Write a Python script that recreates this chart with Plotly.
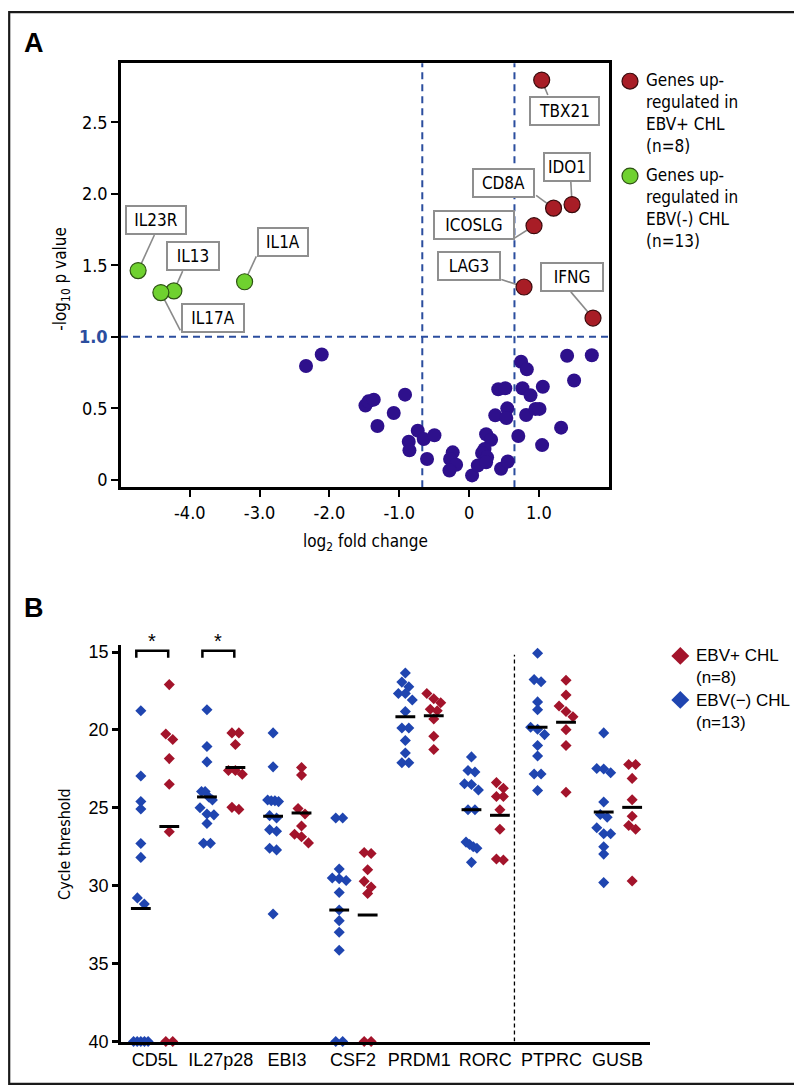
import plotly.graph_objects as go

# ---------------- DATA ----------------
# Panel A: volcano plot (log2 fold change, -log10 p value)
up_pos_genes = ["TBX21", "IDO1", "CD8A", "ICOSLG", "LAG3", "IFNG"]
up_pos_fc = [1.04, 1.475, 1.21, 0.93, 0.787, 1.775]
up_pos_p = [2.796, 1.925, 1.90, 1.777, 1.348, 1.131]

up_neg_genes = ["IL23R", "IL13", "IL17A", "IL1A"]
up_neg_fc = [-4.74, -4.228, -4.414, -3.215]
up_neg_p = [1.463, 1.321, 1.309, 1.385]

other_fc = [-2.335, -2.110, -1.484, -1.441, -1.365, -0.917, -1.079, -1.312, -0.735, -0.864,
            -0.854, -0.649, -0.496, -0.602, -0.234, -0.272, -0.186, -0.281, 0.043, 0.125,
            0.244, 0.315, 0.221, 0.186, 0.258, 0.244, 0.458, 0.554, 0.418, 0.519,
            0.375, 0.547, 0.533, 0.745, 0.827, 0.765, 0.880, 0.705, 1.404, 1.758,
            1.504, 1.056, 0.817, 0.951, 1.009, 1.318, 1.046]
other_p = [0.795, 0.876, 0.519, 0.548, 0.560, 0.595, 0.467, 0.376, 0.343, 0.265,
           0.205, 0.284, 0.311, 0.145, 0.191, 0.145, 0.104, 0.064, 0.030, 0.099,
           0.318, 0.279, 0.214, 0.187, 0.156, 0.122, 0.076, 0.127, 0.633, 0.640,
           0.450, 0.499, 0.431, 0.825, 0.772, 0.640, 0.590, 0.306, 0.867, 0.871,
           0.694, 0.650, 0.452, 0.495, 0.495, 0.364, 0.242]

fc_cutoffs = [-0.67, 0.65]
p_cutoff = 1.0
a_xticks = [-4, -3, -2, -1, 0, 1]
a_xticklabels = ["-4.0", "-3.0", "-2.0", "-1.0", "0", "1.0"]
a_yticks = [0, 0.5, 1.0, 1.5, 2.0, 2.5]
a_yticklabels = ["0", "0.5", "1.0", "1.5", "2.0", "2.5"]

# Panel B: cycle threshold per gene
b_genes = ["CD5L", "IL27p28", "EBI3", "CSF2", "PRDM1", "RORC", "PTPRC", "GUSB"]
ct_ebv_neg = [
    [18.77, 22.96, 24.59, 25.07, 27.29, 28.18, 30.78, 31.18, 40, 40, 40, 40, 40],
    [18.71, 21.06, 22.05, 23.95, 23.95, 24.3, 24.5, 25.0, 25.4, 25.45, 26.0, 27.27, 27.27],
    [20.19, 22.37, 24.5, 24.55, 24.55, 24.6, 25.5, 25.65, 26.4, 26.5, 27.6, 27.7, 31.82],
    [25.65, 25.65, 28.92, 29.5, 29.55, 29.66, 30.44, 31.56, 32.24, 32.98, 34.14, 40, 40],
    [16.34, 16.93, 17.23, 17.66, 17.66, 18.08, 18.82, 19.87, 19.87, 20.68, 21.48, 22.11, 22.11],
    [21.73, 22.6, 22.7, 23.45, 23.5, 23.85, 25.12, 25.12, 27.2, 27.35, 27.5, 27.6, 28.5],
    [15.08, 16.77, 16.91, 18.2, 18.71, 19.83, 19.95, 20.3, 21.0, 21.67, 22.83, 22.83, 23.89],
    [20.19, 22.48, 22.51, 22.75, 24.63, 25.43, 25.6, 26.28, 26.66, 26.66, 27.5, 27.97, 29.8],
]
ct_ebv_pos = [
    [17.09, 20.26, 20.61, 21.84, 23.49, 26.53, 40, 40],
    [20.19, 20.19, 20.93, 22.6, 22.6, 22.85, 24.97, 25.1],
    [22.41, 22.9, 25.05, 25.4, 26.17, 26.7, 26.85, 27.25],
    [27.93, 27.87, 28.98, 29.72, 30.08, 30.5, 40, 40],
    [17.66, 18.0, 18.25, 18.67, 18.77, 19.3, 20.4, 21.25],
    [23.38, 23.74, 24.27, 24.27, 25.12, 26.38, 28.29, 28.35],
    [16.81, 17.76, 18.46, 18.82, 19.15, 19.98, 21.0, 24.0],
    [22.22, 22.22, 23.11, 24.48, 25.54, 26.13, 26.38, 29.69],
]
median_ebv_neg = [31.46, 24.3, 25.54, 31.56, 19.15, 25.12, 19.83, 25.27]
median_ebv_pos = [26.2, 22.41, 25.33, 31.88, 19.09, 25.48, 19.51, 24.97]
b_yticks = [15, 20, 25, 30, 35, 40]
b_divider = 5.44           # dashed separator between RORC and PTPRC
signif_pairs = [0, 1]      # categories with "*"

# ---------------- STYLE / LAYOUT ----------------
W, H = 802, 1087
def px(x):
    return x / W
def py(y):
    return 1 - y / H

RED = "#a81d26"
RED_EDGE = "#3a0b0d"
GREEN = "#6fd12f"
GREEN_EDGE = "#2e5214"
PURPLE = "#2e108c"
DASH_BLUE = "#2b4d9e"
B_BLUE = "#1f45b0"
B_RED = "#a3142b"
ARIAL = "Arial, Liberation Sans, Helvetica, sans-serif"
NARROW = "Liberation Sans Narrow, Arial Narrow, DejaVu Sans Condensed, Liberation Sans, Arial, sans-serif"

fig = go.Figure()

# ---- Panel A traces ----
fig.add_trace(go.Scatter(x=other_fc, y=other_p, mode="markers", xaxis="x", yaxis="y",
                         marker=dict(size=14, color=PURPLE, line=dict(width=0)),
                         showlegend=False, hoverinfo="skip"))
fig.add_trace(go.Scatter(x=up_neg_fc, y=up_neg_p, mode="markers", xaxis="x", yaxis="y",
                         marker=dict(size=16, color=GREEN, line=dict(width=1.2, color=GREEN_EDGE)),
                         showlegend=False, text=up_neg_genes))
fig.add_trace(go.Scatter(x=up_pos_fc, y=up_pos_p, mode="markers", xaxis="x", yaxis="y",
                         marker=dict(size=16, color=RED, line=dict(width=1.2, color=RED_EDGE)),
                         showlegend=False, text=up_pos_genes))

# label boxes: centre (data units), box width (px), connector attach point (data units)
label_style = {
    "TBX21": dict(box=(1.368, 2.583), w=71, attach=(1.128, 2.692)),
    "IDO1": dict(box=(1.407, 2.19), w=48, attach=(1.457, 2.086)),
    "CD8A": dict(box=(0.497, 2.078), w=63, attach=(0.96, 1.989)),
    "ICOSLG": dict(box=(0.075, 1.78), w=82, attach=(0.65, 1.69)),
    "LAG3": dict(box=(0.003, 1.496), w=64, attach=(0.462, 1.401)),
    "IFNG": dict(box=(1.479, 1.415), w=64, attach=(1.457, 1.314)),
    "IL23R": dict(box=(-4.478, 1.816), w=62, attach=(-4.507, 1.712)),
    "IL13": dict(box=(-3.948, 1.563), w=54, attach=(-4.102, 1.459)),
    "IL17A": dict(box=(-3.673, 1.133), w=64, attach=(-4.136, 1.045)),
    "IL1A": dict(box=(-2.671, 1.664), w=52, attach=(-3.047, 1.563)),
}

shapes = []
annotations = []

all_genes = up_pos_genes + up_neg_genes
all_fc = up_pos_fc + up_neg_fc
all_p = up_pos_p + up_neg_p
for g, xv, yv in zip(all_genes, all_fc, all_p):
    st = label_style[g]
    shapes.append(dict(type="line", xref="x", yref="y", x0=xv, y0=yv,
                       x1=st["attach"][0], y1=st["attach"][1],
                       line=dict(color="#8a8a8a", width=1.6), layer="below"))
    annotations.append(dict(xref="x", yref="y", x=st["box"][0], y=st["box"][1],
                            text=g, showarrow=False, bgcolor="white",
                            bordercolor="#8f8f8f", borderwidth=2, borderpad=2,
                            width=st["w"] - 8, height=22, align="center",
                            font=dict(family=NARROW, size=17, color="black"),
                            xanchor="center", yanchor="middle"))

# cutoff lines (panel A)
for c in fc_cutoffs:
    shapes.append(dict(type="line", xref="x", yref="y domain", x0=c, x1=c, y0=0, y1=1,
                       line=dict(color=DASH_BLUE, width=2, dash="7px,5px"), layer="below"))
shapes.append(dict(type="line", xref="x domain", yref="y", x0=0, x1=1, y0=p_cutoff, y1=p_cutoff,
                   line=dict(color=DASH_BLUE, width=2, dash="7px,5px"), layer="below"))

# ---- Panel B traces ----
def swarm(vals, center, step=0.105, tight=0.055, tol=0.42):
    order = sorted(range(len(vals)), key=lambda k: vals[k])
    xs = [center] * len(vals)
    clusters, cur = [], [order[0]]
    for k in order[1:]:
        if vals[k] - vals[cur[-1]] < tol:
            cur.append(k)
        else:
            clusters.append(cur)
            cur = [k]
    clusters.append(cur)
    for c in clusters:
        n = len(c)
        s = step if n <= 3 else tight
        for j, k in enumerate(c):
            xs[k] = center + (j - (n - 1) / 2) * s
    return xs

NEG_OFF, POS_OFF = -0.21, 0.22
bx_neg, by_neg, bx_pos, by_pos = [], [], [], []
for i, g in enumerate(b_genes):
    bx_neg += swarm(ct_ebv_neg[i], i + NEG_OFF)
    by_neg += ct_ebv_neg[i]
    bx_pos += swarm(ct_ebv_pos[i], i + POS_OFF)
    by_pos += ct_ebv_pos[i]

fig.add_trace(go.Scatter(x=bx_neg, y=by_neg, mode="markers", xaxis="x2", yaxis="y2",
                         marker=dict(symbol="diamond", size=8.5, color=B_BLUE, line=dict(width=0)),
                         cliponaxis=False, showlegend=False, name="EBV(-) CHL"))
fig.add_trace(go.Scatter(x=bx_pos, y=by_pos, mode="markers", xaxis="x2", yaxis="y2",
                         marker=dict(symbol="diamond", size=8.5, color=B_RED, line=dict(width=0)),
                         cliponaxis=False, showlegend=False, name="EBV+ CHL"))

HALF = 0.15
mx, my = [], []
for i in range(len(b_genes)):
    for off, m in ((NEG_OFF, median_ebv_neg[i]), (POS_OFF, median_ebv_pos[i])):
        mx += [i + off - HALF, i + off + HALF, None]
        my += [m, m, None]
fig.add_trace(go.Scatter(x=mx, y=my, mode="lines", xaxis="x2", yaxis="y2",
                         line=dict(color="black", width=3), cliponaxis=False,
                         showlegend=False, hoverinfo="skip"))

shapes.append(dict(type="line", xref="x2", yref="y2", x0=b_divider, x1=b_divider, y0=40, y1=15.18,
                   line=dict(color="black", width=1.3, dash="4px,3px")))

# significance brackets (pixel positions)
for i in signif_pairs:
    cx = 146.7 + 66.1 * i
    x0, x1 = cx - 18.4, cx + 13.5
    shapes.append(dict(type="path", xref="paper", yref="paper",
                       path=f"M {px(x0)},{py(654.5)} L {px(x0)},{py(647.5)} L {px(x1)},{py(647.5)} L {px(x1)},{py(654.5)}",
                       line=dict(color="black", width=2.5)))
    annotations.append(dict(xref="paper", yref="paper", x=px((x0 + x1) / 2), y=py(638),
                            text="*", showarrow=False, font=dict(family=ARIAL, size=20, color="black"),
                            xanchor="center", yanchor="middle"))

# ---- legends (drawn) ----
def circle(cx, cy, r, fill, edge):
    shapes.append(dict(type="circle", xref="paper", yref="paper",
                       x0=px(cx - r), x1=px(cx + r), y0=py(cy + r), y1=py(cy - r),
                       fillcolor=fill, line=dict(color=edge, width=1.2)))

def diamond(cx, cy, r, fill):
    shapes.append(dict(type="path", xref="paper", yref="paper",
                       path=f"M {px(cx)},{py(cy - r)} L {px(cx + r)},{py(cy)} L {px(cx)},{py(cy + r)} L {px(cx - r)},{py(cy)} Z",
                       fillcolor=fill, line=dict(width=0)))

circle(622, 71, 8, RED, RED_EDGE)
circle(622, 167, 8, GREEN, GREEN_EDGE)
annotations.append(dict(xref="paper", yref="paper", x=px(636), y=py(103), xanchor="left", yanchor="middle",
                        align="left", showarrow=False,
                        text="Genes up-<br>regulated in<br>EBV+ CHL<br>(n=8)",
                        font=dict(family=NARROW, size=17, color="black")))
annotations.append(dict(xref="paper", yref="paper", x=px(636), y=py(199), xanchor="left", yanchor="middle",
                        align="left", showarrow=False,
                        text="Genes up-<br>regulated in<br>EBV(-) CHL<br>(n=13)",
                        font=dict(family=NARROW, size=17, color="black")))

diamond(672.3, 652.7, 9, B_RED)
diamond(672.3, 697.3, 9, B_BLUE)
annotations.append(dict(xref="paper", yref="paper", x=px(686), y=py(663.5), xanchor="left", yanchor="middle",
                        align="left", showarrow=False, text="EBV+ CHL<br>(n=8)",
                        font=dict(family=ARIAL, size=17, color="black")))
annotations.append(dict(xref="paper", yref="paper", x=px(686), y=py(708.5), xanchor="left", yanchor="middle",
                        align="left", showarrow=False, text="EBV(\u2212) CHL<br>(n=13)",
                        font=dict(family=ARIAL, size=17, color="black")))

# panel letters, axis titles
annotations.append(dict(xref="paper", yref="paper", x=px(26), y=py(32), text="<b>A</b>", showarrow=False,
                        font=dict(family=ARIAL, size=27, color="black"), xanchor="center", yanchor="middle"))
annotations.append(dict(xref="paper", yref="paper", x=px(26), y=py(604), text="<b>B</b>", showarrow=False,
                        font=dict(family=ARIAL, size=27, color="black"), xanchor="center", yanchor="middle"))
annotations.append(dict(xref="paper", yref="paper", x=px(54), y=py(271), text="-log<sub>10</sub> p value",
                        textangle=-90, showarrow=False, font=dict(family=NARROW, size=17, color="black"),
                        xanchor="center", yanchor="middle"))
annotations.append(dict(xref="paper", yref="paper", x=px(357), y=py(538), text="log<sub>2</sub> fold change",
                        showarrow=False, font=dict(family=NARROW, size=17, color="black"),
                        xanchor="center", yanchor="middle"))
annotations.append(dict(xref="paper", yref="paper", x=px(57), y=py(843), text="Cycle threshold",
                        textangle=-90, showarrow=False, font=dict(family=NARROW, size=16, color="black"),
                        xanchor="center", yanchor="middle"))

# outer frame
shapes.append(dict(type="rect", xref="paper", yref="paper", x0=px(1.2), x1=px(800.2), y0=py(1085.8), y1=py(1.2),
                   line=dict(color="#1a1a1a", width=2.2), fillcolor="rgba(0,0,0,0)"))

a_ticktext = [("<b><span style='color:%s'>%s</span></b>" % (DASH_BLUE, t)) if v == p_cutoff else t
              for v, t in zip(a_yticks, a_yticklabels)]

fig.update_layout(
    width=W, height=H, margin=dict(l=0, r=0, t=0, b=0),
    paper_bgcolor="white", plot_bgcolor="white", showlegend=False,
    xaxis=dict(domain=[px(113), px(601)], range=[-4.985, 2.004], anchor="y",
               tickvals=a_xticks, ticktext=a_xticklabels, ticks="outside", ticklen=7, tickwidth=2,
               tickcolor="black", showline=True, linewidth=2.5, linecolor="black", mirror=True,
               showgrid=False, zeroline=False, tickfont=dict(family=NARROW, size=18, color="black")),
    yaxis=dict(domain=[py(482), py(53)], range=[-0.053, 2.913], anchor="x",
               tickvals=a_yticks, ticktext=a_ticktext, ticks="outside", ticklen=7, tickwidth=2,
               tickcolor="black", showline=True, linewidth=2.5, linecolor="black", mirror=True,
               showgrid=False, zeroline=False, tickfont=dict(family=NARROW, size=18, color="black")),
    xaxis2=dict(domain=[px(113), px(642)], range=[-0.51, 7.49], anchor="y2",
                tickvals=list(range(len(b_genes))), ticktext=b_genes, ticks="",
                showline=True, linewidth=2.5, linecolor="black", showgrid=False, zeroline=False,
                tickfont=dict(family=ARIAL, size=18, color="black")),
    yaxis2=dict(domain=[py(1043), py(641.7)], range=[40, 14.55], anchor="x2",
                tickvals=b_yticks, ticks="outside", ticklen=6, tickwidth=2.5, tickcolor="black",
                showline=True, linewidth=2.5, linecolor="black", showgrid=False, zeroline=False,
                tickfont=dict(family=ARIAL, size=18, color="black")),
    shapes=shapes, annotations=annotations,
)

fig.write_html("out.html")
